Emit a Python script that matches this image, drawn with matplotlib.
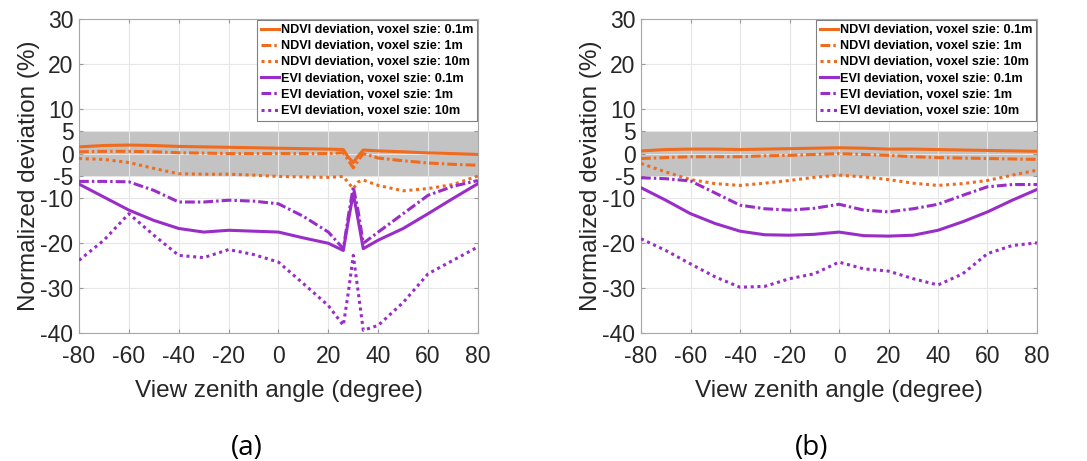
import numpy as np
import matplotlib.pyplot as plt

plt.rcParams['font.family'] = ['Liberation Sans', 'DejaVu Sans']
plt.rcParams['axes.unicode_minus'] = False

# panel (a) data
x_a = [-80, -70, -60, -50, -40, -30, -20, -10, 0, 10, 20, 26, 28, 30, 32, 34, 40, 50, 60, 70, 80]
ndvi01_a = [1.5, 1.8, 1.9, 1.8, 1.6, 1.5, 1.4, 1.3, 1.2, 1.1, 1.0, 0.9, -0.8, -2.0, -0.5, 0.8, 0.6, 0.4, 0.15, 0.0, -0.2]
ndvi1_a = [0.4, 0.5, 0.5, 0.4, 0.2, 0.1, 0.0, 0.0, 0.0, 0.0, 0.0, 0.2, -1.5, -3.2, -1.5, 0.0, -1.0, -1.6, -2.1, -2.4, -2.6]
ndvi10_a = [-1.1, -1.3, -2.0, -3.3, -4.5, -4.6, -4.6, -4.8, -5.1, -5.2, -5.3, -5.1, -6.5, -7.8, -6.3, -5.9, -7.1, -8.3, -7.8, -6.9, -5.0]
evi01_a = [-6.8, -9.7, -12.6, -14.9, -16.7, -17.5, -17.1, -17.3, -17.5, -18.8, -20.0, -21.6, -15.0, -8.9, -15.0, -21.2, -19.3, -16.7, -13.4, -10.0, -6.7]
evi1_a = [-6.2, -6.2, -6.3, -8.2, -10.8, -10.8, -10.4, -10.6, -11.2, -14.0, -17.5, -21.2, -14.0, -7.4, -13.0, -20.0, -17.5, -13.4, -9.3, -7.3, -6.0]
evi10_a = [-23.8, -19.3, -13.4, -18.2, -22.7, -23.2, -21.4, -22.5, -24.2, -29.0, -33.9, -38.3, -31.0, -22.7, -31.0, -39.4, -38.3, -33.2, -26.8, -23.8, -20.8]

# panel (b) data
x_b = [-80, -70, -60, -50, -40, -30, -20, -10, 0, 10, 20, 30, 40, 50, 60, 70, 80]
ndvi01_b = [0.6, 0.9, 1.0, 1.0, 0.9, 1.0, 1.1, 1.2, 1.3, 1.2, 1.0, 1.0, 0.9, 0.8, 0.7, 0.6, 0.5]
ndvi1_b = [-1.1, -0.9, -0.7, -0.7, -0.7, -0.5, -0.4, -0.2, 0.0, -0.2, -0.4, -0.7, -0.9, -1.0, -1.1, -1.2, -1.3]
ndvi10_b = [-2.2, -4.1, -5.8, -6.7, -7.1, -6.6, -6.0, -5.3, -4.8, -5.2, -5.8, -6.6, -7.1, -6.7, -6.0, -4.8, -3.7]
evi01_b = [-7.6, -10.4, -13.4, -15.6, -17.3, -18.1, -18.2, -18.0, -17.5, -18.3, -18.4, -18.2, -17.1, -15.2, -13.0, -10.4, -8.0]
evi1_b = [-5.4, -5.6, -6.1, -8.8, -11.5, -12.3, -12.6, -12.2, -11.3, -12.6, -13.0, -12.3, -11.3, -9.3, -7.4, -6.9, -6.9]
evi10_b = [-19.0, -21.6, -24.6, -27.5, -29.8, -29.6, -27.9, -26.8, -24.2, -25.7, -26.2, -27.9, -29.3, -26.8, -22.3, -20.5, -19.9]

labels = ['NDVI deviation, voxel szie: 0.1m', 'NDVI deviation, voxel szie: 1m',
          'NDVI deviation, voxel szie: 10m', 'EVI deviation, voxel szie: 0.1m',
          'EVI deviation, voxel szie: 1m', 'EVI deviation, voxel szie: 10m']
xticks = [-80, -60, -40, -20, 0, 20, 40, 60, 80]
yticks = [-40, -30, -20, -10, -5, 0, 5, 10, 20, 30]

orange = '#EF6C1E'
purple = '#9A2DC8'
styles = ['-', (0, (3.2, 1.0, 0.8, 1.0)), (0, (1, 1.2))]

fig = plt.figure(figsize=(10.87, 4.61), dpi=100)
ax_a = fig.add_axes([0.0727, 0.2777, 0.367, 0.681])
ax_b = fig.add_axes([0.5897, 0.2777, 0.3643, 0.681])

panels = [
    (ax_a, x_a, [ndvi01_a, ndvi1_a, ndvi10_a, evi01_a, evi1_a, evi10_a], '(a)', 0.227),
    (ax_b, x_b, [ndvi01_b, ndvi1_b, ndvi10_b, evi01_b, evi1_b, evi10_b], '(b)', 0.747),
]

for ax, x, series, tag, tx in panels:
    ax.axhspan(-5, 5, color='#C3C3C3', zorder=1, lw=0)
    for i, y in enumerate(series):
        col = orange if i < 3 else purple
        ax.plot(x, y, color=col, linestyle=styles[i % 3], linewidth=2.2,
                label=labels[i], zorder=3)
    ax.set_xlim(-80, 80)
    ax.set_ylim(-40, 30)
    ax.set_xticks(xticks)
    ax.set_yticks(yticks)
    ax.set_axisbelow('line')
    ax.grid(True, color='#E6E6E6', linewidth=0.8, zorder=1.5)
    ax.tick_params(direction='in', length=3, labelsize=16.5, colors='#999999',
                   labelcolor='#262626', top=True, right=True)
    ax.tick_params(axis='x', pad=9)
    ax.tick_params(axis='y', pad=4)
    for sp in ax.spines.values():
        sp.set_color('#A6A6A6')
        sp.set_linewidth(0.8)
    ax.set_xlabel('View zenith angle (degree)', fontsize=17.5, color='#262626', labelpad=8)
    ax.set_ylabel('Normalized deviation (%)', fontsize=17.5, color='#262626', labelpad=0)
    leg = ax.legend(loc='upper right', frameon=True, fancybox=False,
                    borderaxespad=0.1, handlelength=1.4, handletextpad=0.15,
                    labelspacing=0.33, borderpad=0.3,
                    prop={'weight': 'bold', 'size': 9.1})
    leg.get_frame().set_edgecolor('#808080')
    leg.get_frame().set_linewidth(0.8)
    leg.get_frame().set_alpha(1)
    fig.text(tx, 0.012, tag, fontsize=20, ha='center', va='baseline',
             family=['Open Sans', 'DejaVu Sans'])

fig.savefig('out.png', dpi=100)
